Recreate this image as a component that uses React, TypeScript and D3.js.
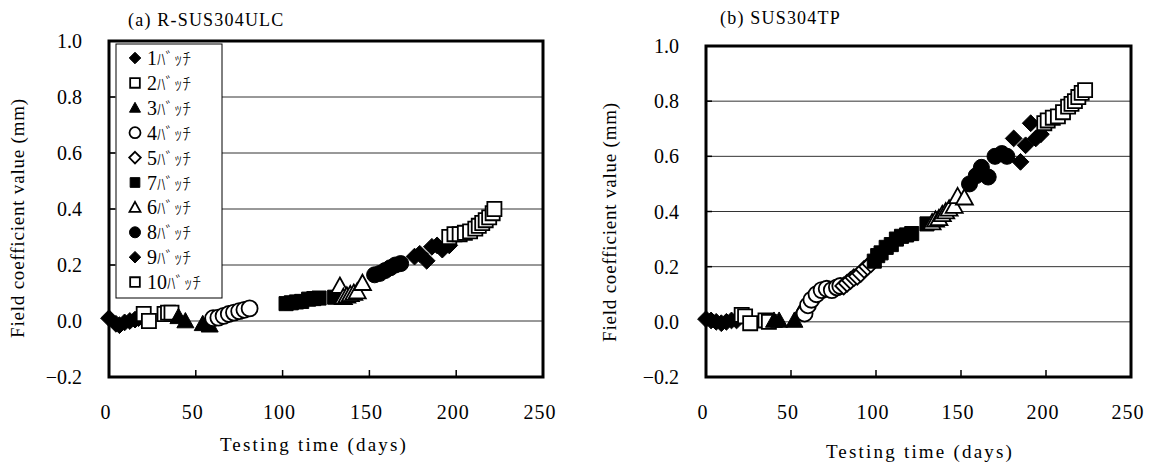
import React from 'react';
import * as d3 from 'd3';

// ---------- data ----------
const xTicks = [0, 50, 100, 150, 200, 250];
const yTicks = [-0.2, 0.0, 0.2, 0.4, 0.6, 0.8, 1.0];
const gridValues = [0.0, 0.2, 0.4, 0.6, 0.8];
const batchLabels = ['1', '2', '3', '4', '5', '7', '6', '8', '9', '10'];
const batchMarkers = ['diamondF', 'squareO', 'triangleF', 'circleO', 'diamondO', 'squareF', 'triangleO', 'circleF', 'diamondF', 'squareO'];

// (a) R-SUS304ULC : [day, value]
const a1 = [[0, 0.01], [4, -0.01], [6, -0.015], [9, -0.005], [12, 0.0], [15, 0.005], [17, 0.01]];
const a2 = [[20, 0.025], [23, 0.0], [32, 0.025], [34, 0.03], [36, 0.03]];
const a3 = [[40, 0.015], [44, 0.0], [54, -0.01], [58, -0.015]];
const a4 = [[60, 0.01], [63, 0.012], [66, 0.018], [69, 0.025], [72, 0.03], [75, 0.035], [78, 0.04], [81, 0.045]];
const a5: number[][] = [];
const a7 = [[102, 0.062], [105, 0.065], [108, 0.068], [111, 0.07], [115, 0.078], [118, 0.08], [121, 0.082], [130, 0.085]];
const a6 = [[133, 0.125], [135, 0.085], [137, 0.09], [139, 0.095], [141, 0.1], [143, 0.105], [146, 0.135]];
const a8 = [[153, 0.165], [156, 0.17], [159, 0.18], [162, 0.19], [165, 0.2], [168, 0.205]];
const a9 = [[176, 0.23], [179, 0.24], [183, 0.215], [186, 0.265], [189, 0.27], [192, 0.255], [196, 0.27]];
const a10 = [[196, 0.3], [199, 0.31], [202, 0.31], [205, 0.315], [208, 0.32], [211, 0.33], [213, 0.34], [215, 0.35], [217, 0.36], [219, 0.37], [221, 0.385], [222, 0.4]];

// (b) SUS304TP : [day, value]
const b1 = [[0, 0.01], [3, 0.005], [6, 0.0], [9, -0.005], [12, 0.0], [15, 0.005], [18, 0.005]];
const b2 = [[21, 0.025], [23, 0.02], [26, -0.005], [35, 0.005], [37, 0.0]];
const b3 = [[40, 0.005], [43, 0.005], [52, 0.005], [55, 0.03]];
const b4 = [[58, 0.03], [60, 0.06], [62, 0.08], [65, 0.1], [68, 0.115], [71, 0.12], [74, 0.115], [77, 0.125], [79, 0.13]];
const b5 = [[81, 0.13], [83, 0.14], [85, 0.15], [87, 0.16], [89, 0.165], [91, 0.175], [93, 0.19], [95, 0.2], [97, 0.21]];
const b7 = [[99, 0.22], [101, 0.24], [103, 0.25], [106, 0.27], [109, 0.28], [112, 0.3], [115, 0.31], [118, 0.315], [121, 0.32], [130, 0.355]];
const b6 = [[133, 0.36], [135, 0.37], [137, 0.375], [139, 0.39], [141, 0.4], [143, 0.41], [146, 0.42], [148, 0.455], [152, 0.45]];
const b8 = [[155, 0.5], [159, 0.53], [162, 0.56], [166, 0.525], [170, 0.6], [174, 0.61], [177, 0.6]];
const b9 = [[181, 0.665], [185, 0.58], [188, 0.64], [191, 0.72], [194, 0.665], [197, 0.68]];
const b10 = [[199, 0.72], [201, 0.73], [204, 0.74], [207, 0.745], [210, 0.76], [213, 0.78], [215, 0.79], [217, 0.8], [219, 0.815], [221, 0.83], [223, 0.84]];

const seriesA = [a1, a2, a3, a4, a5, a7, a6, a8, a9, a10];
const seriesB = [b1, b2, b3, b4, b5, b7, b6, b8, b9, b10];

// ---------- drawing ----------
const SERIF = '"Liberation Serif", "Noto Sans CJK JP", serif';

function Marker({ type, x, y, size }: { type: string; x: number; y: number; size: number }) {
  const h = size / 2;
  const filled = type.endsWith('F');
  const fill = filled ? '#000' : '#fff';
  const sw = filled ? 1 : 1.8;
  const kind = type.slice(0, -1);
  if (kind === 'circle') {
    return <circle cx={x} cy={y} r={h} fill={fill} stroke="#000" strokeWidth={sw} />;
  }
  let d = '';
  if (kind === 'square') {
    const s = h * 0.88;
    d = `M${-s},${-s}H${s}V${s}H${-s}Z`;
  } else if (kind === 'diamond') {
    const s = h * 1.05;
    d = `M0,${-s}L${s},0L0,${s}L${-s},0Z`;
  } else {
    d = `M0,${-h}L${h},${h * 0.8}L${-h},${h * 0.8}Z`;
  }
  return <path d={d} transform={`translate(${x},${y})`} fill={fill} stroke="#000" strokeWidth={sw} strokeLinejoin="miter" />;
}

type PanelProps = {
  x0: number; x1: number; y0: number; y1: number;
  series: number[][][];
  title: string; titleX: number; titleY: number;
  yTitleX: number; yTitleY: number;
  xTitleX: number; xTitleY: number;
  legend: boolean;
};

function Panel(p: PanelProps) {
  const x = d3.scaleLinear().domain([0, 250]).range([p.x0, p.x1]);
  const y = d3.scaleLinear().domain([-0.2, 1.0]).range([p.y1, p.y0]);
  const legendRowY = (i: number) => 58 + i * 24.9;
  return (
    <g>
      {gridValues.map((v) => (
        <line key={'g' + v} x1={p.x0} x2={p.x1} y1={y(v)} y2={y(v)} stroke="#333" strokeWidth={1} />
      ))}
      {yTicks.map((v) => (
        <line key={'yt' + v} x1={p.x0} x2={p.x0 + 6} y1={y(v)} y2={y(v)} stroke="#000" strokeWidth={1.5} />
      ))}
      {xTicks.map((v) => (
        <line key={'xt' + v} x1={x(v)} x2={x(v)} y1={p.y1} y2={p.y1 - 7} stroke="#000" strokeWidth={1.5} />
      ))}
      {p.series.map((s, si) =>
        s.map((pt, pi) => (
          <Marker key={si + '-' + pi} type={batchMarkers[si]} x={x(pt[0])} y={y(pt[1])}
            size={batchMarkers[si].startsWith('circle') ? 16 : batchMarkers[si].startsWith('triangle') ? 17 : 16} />
        ))
      )}
      <rect x={p.x0} y={p.y0} width={p.x1 - p.x0} height={p.y1 - p.y0} fill="none" stroke="#000" strokeWidth={3} />
      {yTicks.map((v) => (
        <text key={'yl' + v} x={p.x0 - 27} y={y(v)} dy="0.35em" textAnchor="end" fontFamily={SERIF} fontSize={20} fill="#000">
          {v < 0 ? '\u2212' + Math.abs(v).toFixed(1) : v.toFixed(1)}
        </text>
      ))}
      {xTicks.map((v) => (
        <text key={'xl' + v} x={x(v) - 3} y={419} textAnchor="middle" fontFamily={SERIF} fontSize={20} letterSpacing={1} fill="#000">
          {v}
        </text>
      ))}
      <text x={p.titleX} y={p.titleY} fontFamily={SERIF} fontSize={18} letterSpacing={1.2} fill="#000">{p.title}</text>
      <text x={p.xTitleX} y={p.xTitleY} textAnchor="middle" fontFamily={SERIF} fontSize={19} letterSpacing={2.2} fill="#000">
        Testing time (days)
      </text>
      <text transform={`translate(${p.yTitleX},${p.yTitleY}) rotate(-90)`} textAnchor="middle" fontFamily={SERIF} fontSize={19}
        letterSpacing={0.8} fill="#000">
        Field coefficient value (mm)
      </text>
      {p.legend && (
        <g>
          <rect x={116} y={44} width={106} height={254} fill="#fff" stroke="#000" strokeWidth={1} />
          {batchLabels.map((lab, i) => (
            <g key={'lg' + i}>
              <Marker type={batchMarkers[i]} x={135} y={legendRowY(i)} size={11} />
              <text x={147} y={legendRowY(i)} dy="0.35em" fontFamily={SERIF} fontSize={20} fill="#000">
                {lab}
                <tspan fontFamily='"Noto Sans CJK JP"' fontSize={17} fontWeight={300}>ﾊﾞｯﾁ</tspan>
              </text>
            </g>
          ))}
        </g>
      )}
    </g>
  );
}

export default function App() {
  return (
    <svg width={1151} height={468} style={{ display: 'block', position: 'absolute', left: 0, top: 0, background: '#fff' }}>
      <rect x={0} y={0} width={1151} height={468} fill="#fff" />
      <Panel x0={109} x1={543} y0={41} y1={377} series={seriesA} title="(a) R-SUS304ULC" titleX={128} titleY={26}
        yTitleX={24} yTitleY={218} xTitleX={314} xTitleY={451} legend={true} />
      <Panel x0={706} x1={1131} y0={46} y1={377} series={seriesB} title="(b) SUS304TP" titleX={720} titleY={24}
        yTitleX={616} yTitleY={222} xTitleX={920} xTitleY={458} legend={false} />
    </svg>
  );
}
